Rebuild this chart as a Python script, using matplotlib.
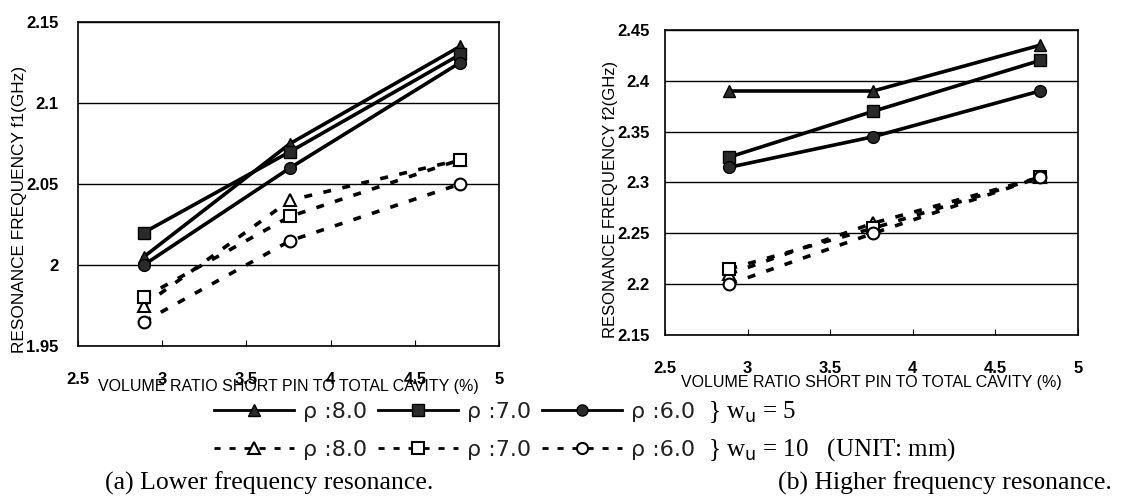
import matplotlib

matplotlib.use("Agg")
import matplotlib.pyplot as plt

plt.rcParams["font.family"] = ["Liberation Sans", "DejaVu Sans"]

# volume ratio short pin / total cavity (%)
x_ratio = [2.89, 3.76, 4.77]

# (a) lower resonance f1 (GHz)
f1_w5_rho8 = [2.005, 2.075, 2.135]
f1_w5_rho7 = [2.020, 2.070, 2.130]
f1_w5_rho6 = [2.000, 2.060, 2.125]
f1_w10_rho8 = [1.975, 2.040, 2.065]
f1_w10_rho7 = [1.980, 2.030, 2.065]
f1_w10_rho6 = [1.965, 2.015, 2.050]

# (b) higher resonance f2 (GHz)
f2_w5_rho8 = [2.390, 2.390, 2.435]
f2_w5_rho7 = [2.325, 2.370, 2.420]
f2_w5_rho6 = [2.315, 2.345, 2.390]
f2_w10_rho8 = [2.210, 2.260, 2.305]
f2_w10_rho7 = [2.215, 2.255, 2.305]
f2_w10_rho6 = [2.200, 2.250, 2.305]

rho_labels = ["\u03c1 :8.0", "\u03c1 :7.0", "\u03c1 :6.0"]
markers = ["^", "s", "o"]
xticks = [2.5, 3, 3.5, 4, 4.5, 5]

fig = plt.figure(figsize=(11.29, 4.99), dpi=100)
ax1 = fig.add_axes([0.0691, 0.3066, 0.3729, 0.6493])
ax2 = fig.add_axes([0.589, 0.3287, 0.3658, 0.6112])

dash = (0, (2.2, 3.2))


def draw(ax, solid, dashed):
    hs, hd = [], []
    for ys, m in zip(solid, markers):
        (h,) = ax.plot(x_ratio, ys, color="black", lw=2.6, marker=m, ms=8.5,
                       mfc="#2a2a2a", mec="black", zorder=3)
        hs.append(h)
    for ys, m in zip(dashed, markers):
        (h,) = ax.plot(x_ratio, ys, color="black", lw=2.6, ls=dash, marker=m,
                       ms=8.5, mfc="white", mec="black", mew=1.5, zorder=3)
        hd.append(h)
    return hs, hd


hs, hd = draw(ax1, [f1_w5_rho8, f1_w5_rho7, f1_w5_rho6],
              [f1_w10_rho8, f1_w10_rho7, f1_w10_rho6])
draw(ax2, [f2_w5_rho8, f2_w5_rho7, f2_w5_rho6],
     [f2_w10_rho8, f2_w10_rho7, f2_w10_rho6])

ax1.set_ylim(1.95, 2.15)
ax1.set_yticks([1.95, 2.0, 2.05, 2.1, 2.15])
ax1.set_yticklabels(["1.95", "2", "2.05", "2.1", "2.15"])
ax1.set_ylabel("RESONANCE FREQUENCY f1(GHz)", fontsize=12.4, va="center")
ax1.yaxis.set_label_coords(-0.138, 0.42)
ax1.tick_params(axis="x", pad=19)
ax1.tick_params(axis="y", pad=14)

ax2.set_ylim(2.15, 2.45)
ax2.set_yticks([2.15, 2.2, 2.25, 2.3, 2.35, 2.4, 2.45])
ax2.set_yticklabels(["2.15", "2.2", "2.25", "2.3", "2.35", "2.4", "2.45"])
ax2.set_ylabel("RESONANCE FREQUENCY f2(GHz)", fontsize=12, va="center")
ax2.yaxis.set_label_coords(-0.133, 0.446)
ax2.tick_params(axis="x", pad=19)
ax2.tick_params(axis="y", pad=11)

for ax in (ax1, ax2):
    ax.set_xlim(2.5, 5)
    ax.set_xticks(xticks)
    ax.set_xticklabels([f"{t:g}" for t in xticks])
    ax.tick_params(axis="x", direction="in", length=4, labelsize=12)
    ax.tick_params(axis="y", length=0, labelsize=12)
    for lab in ax.get_xticklabels() + ax.get_yticklabels():
        lab.set_fontweight("bold")
    ax.grid(axis="y", color="black", lw=1.0)
    ax.set_axisbelow(True)
    for sp in ax.spines.values():
        sp.set_linewidth(1.2)
    ax.set_xlabel("VOLUME RATIO SHORT PIN TO TOTAL CAVITY (%)", fontsize=11.5,
                  va="center")
ax1.xaxis.set_label_coords(0.5, -0.1235)
ax2.xaxis.set_label_coords(0.5, -0.157)

leg_font = {"family": ["DejaVu Sans"], "size": 16}
leg_kw = dict(ncol=3, loc="center right", frameon=False, prop=leg_font,
              handlelength=3.6, handletextpad=0.4, columnspacing=0.5,
              borderpad=0.0, borderaxespad=0.0)
l1 = fig.legend(hs, rho_labels, bbox_to_anchor=(0.616, 0.1743), **leg_kw)
l2 = fig.legend(hd, rho_labels, bbox_to_anchor=(0.616, 0.0982), **leg_kw)
for leg in (l1, l2):
    for t in leg.get_texts():
        t.set_color("#222222")
    for h in leg.legend_handles:
        h.set_linewidth(2.0)
        h.set_markersize(8)

serif = ["Liberation Serif", "DejaVu Serif"]
fig.text(0.627, 0.1743, "} w$_{\\rm u}$ = 5", fontsize=18, family=serif, va="center")
fig.text(0.627, 0.0982, "} w$_{\\rm u}$ = 10   (UNIT: mm)", fontsize=18,
         family=serif, va="center")
fig.text(0.093, 0.032, "(a) Lower frequency resonance.", fontsize=18.5,
         family=serif, va="center")
fig.text(0.689, 0.032, "(b) Higher frequency resonance.", fontsize=18.5,
         family=serif, va="center")

fig.savefig("out.png", dpi=100)
